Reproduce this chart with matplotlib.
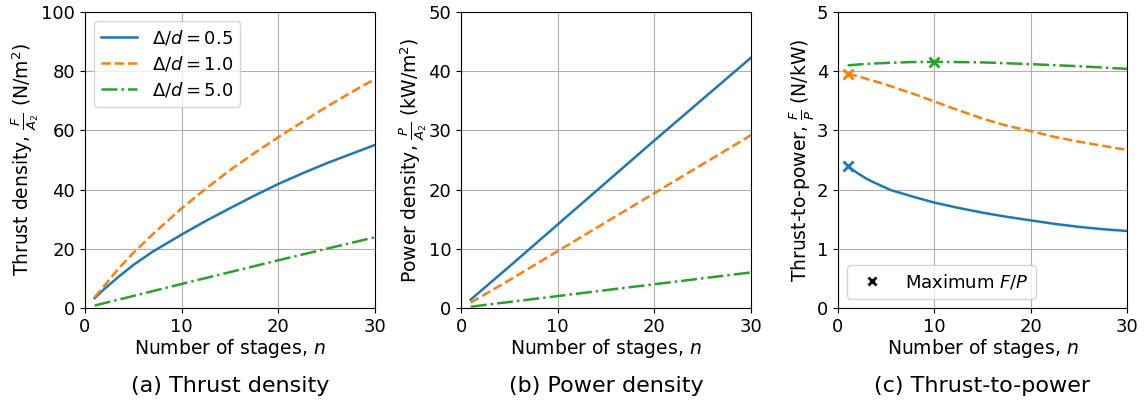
import numpy as np
import matplotlib
matplotlib.use("Agg")
import matplotlib.pyplot as plt

"###################### Data read off the figure ######################"
ratios = [0.5, 1.0, 5.0]
colors = ['tab:blue', 'tab:orange', 'tab:green']
styles = ['-', '--', '-.']

# (a) Thrust density F/A2 (N/m^2)
n_a = [1, 2, 3.5, 5, 7, 10, 12.5, 15, 17.5, 20, 22.5, 25, 27.5, 30]
thrust_05 = [3.3, 6.4, 10.6, 14.5, 19.0, 24.8, 29.4, 33.7, 37.9, 41.9, 45.5, 48.9, 52.0, 55.1]
thrust_10 = [3.6, 7.5, 13.4, 18.6, 24.9, 33.7, 40.3, 46.6, 52.3, 57.7, 62.9, 68.0, 72.8, 77.4]
n_a5 = [1, 10, 20, 30]
thrust_50 = [0.8, 8.1, 16.1, 23.9]

# (b) Power density P/A2 (kW/m^2)
n_b = [1, 5, 10, 15, 20, 25, 30]
power_05 = [1.4, 7.0, 14.1, 21.2, 28.3, 35.3, 42.3]
power_10 = [0.9, 4.7, 9.6, 14.5, 19.4, 24.3, 29.2]
power_50 = [0.2, 1.0, 2.0, 3.0, 4.0, 5.0, 6.0]

# (c) Thrust-to-power F/P (N/kW)
n_c05 = [1, 2, 3, 4, 5.5, 8, 10, 12.5, 15, 17.5, 20, 22.5, 25, 27.5, 30]
ftp_05 = [2.40, 2.28, 2.18, 2.10, 1.99, 1.87, 1.78, 1.69, 1.61, 1.54, 1.48, 1.42, 1.37, 1.33, 1.30]
n_c10 = [1, 2, 3, 4.5, 6.5, 8, 10, 12, 15, 17.5, 20, 22.5, 25, 27.5, 30]
ftp_10 = [3.95, 3.92, 3.87, 3.80, 3.69, 3.61, 3.49, 3.37, 3.20, 3.08, 2.99, 2.89, 2.81, 2.74, 2.67]
n_c50 = [1, 3, 5, 7.5, 10, 12.5, 15, 20, 25, 30]
ftp_50 = [4.10, 4.125, 4.14, 4.155, 4.16, 4.155, 4.15, 4.12, 4.085, 4.04]

# maximum F/P points
max_n = [1, 1, 10]
max_fp = [2.40, 3.95, 4.16]

"###################### Plot ######################"
label = 13.5
tick_size = 13
leg_size = 13
cap_size = 16

fig = plt.figure(figsize=(11.44, 4.03), dpi=100)
ax_a = fig.add_axes([0.0743, 0.236, 0.2535, 0.734])
ax_b = fig.add_axes([0.403, 0.236, 0.2535, 0.734])
ax_c = fig.add_axes([0.7325, 0.236, 0.2526, 0.734])

n_cs = [n_c05, n_c10, n_c50]
for i in range(3):
    ax_a.plot([n_a, n_a, n_a5][i], [thrust_05, thrust_10, thrust_50][i], color=colors[i],
              ls=styles[i], lw=1.8, label=r"$\Delta/d = %.1f$" % ratios[i])
    ax_b.plot(n_b, [power_05, power_10, power_50][i], color=colors[i], ls=styles[i], lw=1.8)
    ax_c.plot(n_cs[i], [ftp_05, ftp_10, ftp_50][i], color=colors[i], ls=styles[i], lw=1.8)
    ax_c.plot(max_n[i], max_fp[i], marker='x', color=colors[i], ms=7, mew=2, ls='')

ax_c.plot([], [], marker='x', color='k', ms=6, mew=2, ls='', label=r"Maximum $F/P$")

ax_a.set_ylim(0, 100)
ax_b.set_ylim(0, 50)
ax_c.set_ylim(0, 5)
ax_a.set_ylabel(r"Thrust density, $\frac{F}{A_2}$ (N/m$^2$)", fontsize=label, labelpad=0)
ax_b.set_ylabel(r"Power density, $\frac{P}{A_2}$ (kW/m$^2$)", fontsize=label, labelpad=0)
ax_c.set_ylabel(r"Thrust-to-power, $\frac{F}{P}$ (N/kW)", fontsize=label, labelpad=0)

captions = ["(a) Thrust density", "(b) Power density", "(c) Thrust-to-power"]
for ax, cap in zip([ax_a, ax_b, ax_c], captions):
    ax.set_xlim(0, 30)
    ax.set_xticks([0, 10, 20, 30])
    ax.set_xlabel(r"Number of stages, $n$", fontsize=label, labelpad=1)
    ax.tick_params(axis='both', which='major', labelsize=tick_size)
    ax.grid(color='#b0b0b0', lw=0.8)
    pos = ax.get_position()
    fig.text((pos.x0 + pos.x1) / 2, 0.043, cap, ha='center', va='center', fontsize=cap_size)

ax_a.legend(loc='upper left', fontsize=leg_size, labelspacing=0.4)
ax_c.legend(loc='lower left', fontsize=leg_size)

fig.savefig("out.png", dpi=100)
